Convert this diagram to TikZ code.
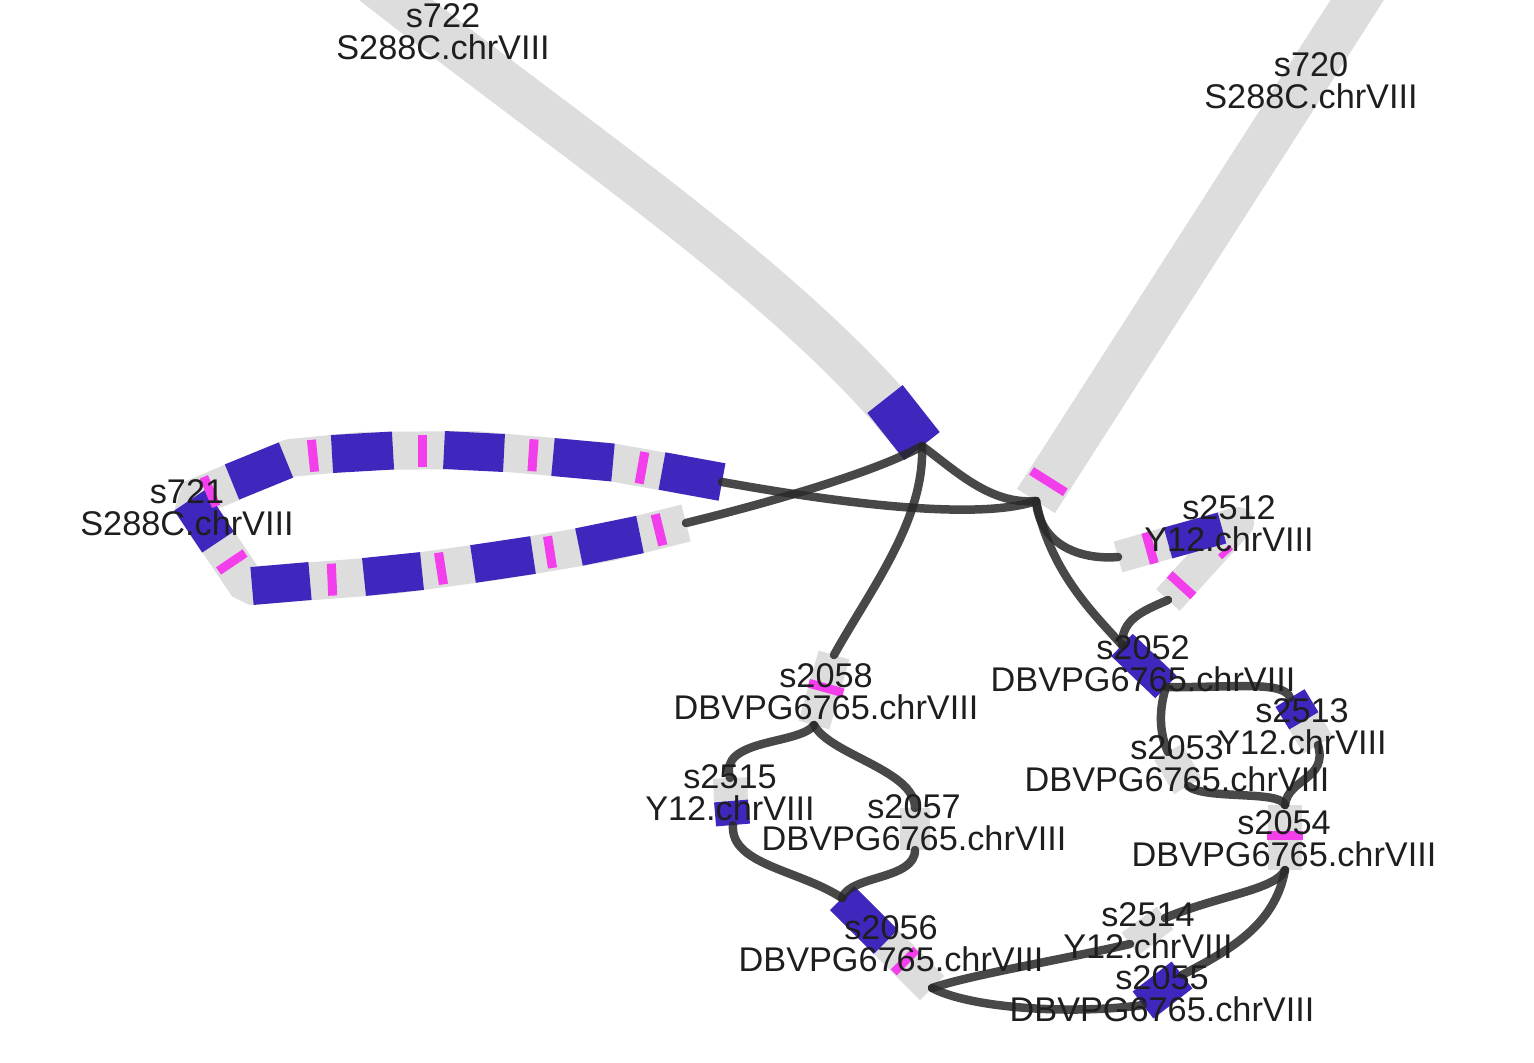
\documentclass[tikz,border=0pt]{standalone}
\usepackage{fontspec}
\setmainfont{Liberation Sans}
\definecolor{segblue}{RGB}{63,39,190}
\definecolor{segpink}{RGB}{243,62,236}
\definecolor{seggray}{RGB}{221,221,221}
\definecolor{linkgray}{RGB}{40,40,40}
\definecolor{textgray}{RGB}{30,30,30}

\begin{document}
\begin{tikzpicture}[x=0.02cm,y=-0.02cm,
  band/.style={seggray,line width=0.9cm},
  loopband/.style={seggray,line width=0.76cm,line join=bevel},
  seg/.style={line width=0.68cm},
  stripe/.style={segpink,line width=0.64cm},
  link/.style={linkgray,opacity=0.85,line width=0.17cm,line cap=round},
  lbl/.style={font=\fontsize{19.5}{18.2}\selectfont,align=center,inner sep=0pt,text=textgray}]
  \useasboundingbox (0,0) rectangle (1534,1062);
  \clip (0,0) rectangle (1534,1062);

  % S288C
  \coordinate (s722e) at (922,446);
  \coordinate (s720e) at (1036,501);
  \coordinate (s721a) at (722,482);
  \coordinate (s721b) at (686,523);
  \draw[band] (370,-20) .. controls (600,160) and (800,290) .. (s722e);
  \draw[band,segblue] (885,399) -- (s722e);
  \draw[band] (1370,-20) -- (s720e);
  \draw[stripe,line width=0.8cm] (1046,485.4) -- (1050.8,477.8);
  \draw[loopband] (s721a) -- (610,462) -- (474,450) -- (362,451) -- (290,458) -- (190,500)
    -- (248,586) -- (393,575) -- (503,560) -- (610,542) -- (s721b);
  \foreach \xa/\ya/\xb/\yb in {662/471/722/482, 553/457/613/462.5, 444/450/504/453,
      332/454/393/450.5, 232/482/286/460, 190/500/218/542, 252/586/310/581,
      364/577/422/571, 473/564/533/555, 579/547/640/534.5}
    \draw[segblue,line width=0.76cm] (\xa,\ya) -- (\xb,\yb);
  \foreach \xa/\ya/\xb/\yb in {637.5/467/646.5/468.6, 528.5/455/537.5/455.6,
      417.5/450.5/426.5/450.5, 308.5/456.2/317.5/455.3, 214.1/489.9/205.9/493.3,
      229.3/558.3/234.3/565.7, 327.5/579.8/336.5/579.4, 436.5/569.2/445.5/567.8,
      545.5/552.8/554.5/551.4, 654.5/530.9/663.5/528.7}
    \draw[stripe] (\xa,\ya) -- (\xb,\yb);

  % Y12 and DBVPG6765
  \coordinate (s2512a) at (1118,557);
  \coordinate (s2512b) at (1168,600);
  \draw[seggray,line width=0.64cm,line join=round] (s2512a) -- (1238,523) -- (s2512b);
  \draw[segblue,line width=0.64cm] (1168,543) -- (1222,528);
  \draw[stripe] (1145.7,549.2) -- (1154.3,546.8);
  \draw[stripe] (1178.5,588.5) -- (1184.5,581.9);
  \draw[segpink,line width=0.12cm] (1220,557) -- (1231,547);

  \coordinate (s2052a) at (1122,645);
  \coordinate (s2052b) at (1166,687);
  \draw[segblue,line width=0.62cm] (s2052a) -- (s2052b);

  \coordinate (s2058a) at (834,655);
  \coordinate (s2058b) at (814,725);
  \draw[seggray,line width=0.64cm] (s2058a) -- (s2058b);
  \draw[stripe,line width=0.72cm] (827.2,683.7) -- (824.8,692.3);

  \coordinate (s2515a) at (730,778);
  \coordinate (s2515b) at (733,825);
  \draw[seg,seggray] (s2515a) -- (731,801);
  \draw[seg,segblue] (731,801) -- (s2515b);

  \coordinate (s2057a) at (915,808);
  \coordinate (s2057b) at (915,850);
  \draw[seggray,line width=0.6cm] (s2057a) -- (s2057b);

  \coordinate (s2056a) at (842,898);
  \coordinate (s2056b) at (932,988);
  \draw[seg,segblue] (s2056a) -- (886,942);
  \draw[seg,seggray] (886,942) -- (s2056b);
  \draw[stripe] (902,958) -- (908,964);

  \coordinate (s2514a) at (1130,944);
  \coordinate (s2514b) at (1165,918);
  \draw[seggray,line width=0.56cm] (s2514a) -- (s2514b);

  \coordinate (s2055a) at (1143,1005);
  \coordinate (s2055b) at (1182,975);
  \draw[seg,segblue] (s2055a) -- (s2055b);

  \coordinate (s2054a) at (1285,805);
  \coordinate (s2054b) at (1285,870);
  \draw[seg,seggray] (s2054a) -- (s2054b);
  \draw[stripe,line width=0.72cm] (1285,830.5) -- (1285,839.5);

  \coordinate (s2053a) at (1168,752);
  \coordinate (s2053b) at (1188,786);
  \draw[seggray,line width=0.64cm] (s2053a) -- (s2053b);

  \coordinate (s2513a) at (1290,698);
  \coordinate (s2513b) at (1318,745);
  \draw[seg,segblue] (s2513a) -- (1304,721);
  \draw[seg,seggray] (1304,721) -- (s2513b);

  % links
  \draw[link] (s721a) .. controls (850,505) and (980,520) .. (s720e);
  \draw[link] (s721b) .. controls (780,500) and (880,470) .. (s722e);
  \draw[link] (s722e) .. controls (925,520) and (870,590) .. (s2058a);
  \draw[link] (s722e) .. controls (955,470) and (990,505) .. (s720e);
  \draw[link] (s720e) .. controls (1040,545) and (1080,560) .. (s2512a);
  \draw[link] (s720e) .. controls (1050,570) and (1090,610) .. (s2052a);
  \draw[link] (s2512b) .. controls (1140,612) and (1122,620) .. (s2052a);
  \draw[link] (s2052b) .. controls (1230,688) and (1285,680) .. (s2513a);
  \draw[link] (s2052b) .. controls (1158,712) and (1160,735) .. (s2053a);
  \draw[link] (s2513b) .. controls (1328,780) and (1288,778) .. (s2054a);
  \draw[link] (s2053b) .. controls (1205,800) and (1280,790) .. (s2054a);
  \draw[link] (s2054b) .. controls (1275,890) and (1220,895) .. (s2514b);
  \draw[link] (s2054b) .. controls (1275,925) and (1230,950) .. (s2055b);
  \draw[link] (s2056b) .. controls (970,975) and (1060,960) .. (s2514a);
  \draw[link] (s2056b) .. controls (970,1008) and (1070,1015) .. (s2055a);
  \draw[link] (s2058b) .. controls (800,745) and (718,738) .. (s2515a);
  \draw[link] (s2058b) .. controls (830,755) and (915,770) .. (s2057a);
  \draw[link] (s2515b) .. controls (730,865) and (800,870) .. (s2056a);
  \draw[link] (s2057b) .. controls (915,880) and (850,875) .. (s2056a);

  \node[lbl] (l722) at (443,32) {s722\\S288C.chrVIII};
  \node[lbl] (l720) at (1311,81) {s720\\S288C.chrVIII};
  \node[lbl] (l721) at (187,508) {s721\\S288C.chrVIII};
  \node[lbl] (l2512) at (1229,524) {s2512\\Y12.chrVIII};
  \node[lbl] (l2052) at (1143,664) {s2052\\DBVPG6765.chrVIII};
  \node[lbl] (l2058) at (826,692) {s2058\\DBVPG6765.chrVIII};
  \node[lbl] (l2513) at (1302,727) {s2513\\Y12.chrVIII};
  \node[lbl] (l2053) at (1177,764) {s2053\\DBVPG6765.chrVIII};
  \node[lbl] (l2515) at (730,793) {s2515\\Y12.chrVIII};
  \node[lbl] (l2057) at (914,823) {s2057\\DBVPG6765.chrVIII};
  \node[lbl] (l2054) at (1284,839) {s2054\\DBVPG6765.chrVIII};
  \node[lbl] (l2056) at (891,944) {s2056\\DBVPG6765.chrVIII};
  \node[lbl] (l2514) at (1148,931) {s2514\\Y12.chrVIII};
  \node[lbl] (l2055) at (1162,994) {s2055\\DBVPG6765.chrVIII};
\end{tikzpicture}
\end{document}
